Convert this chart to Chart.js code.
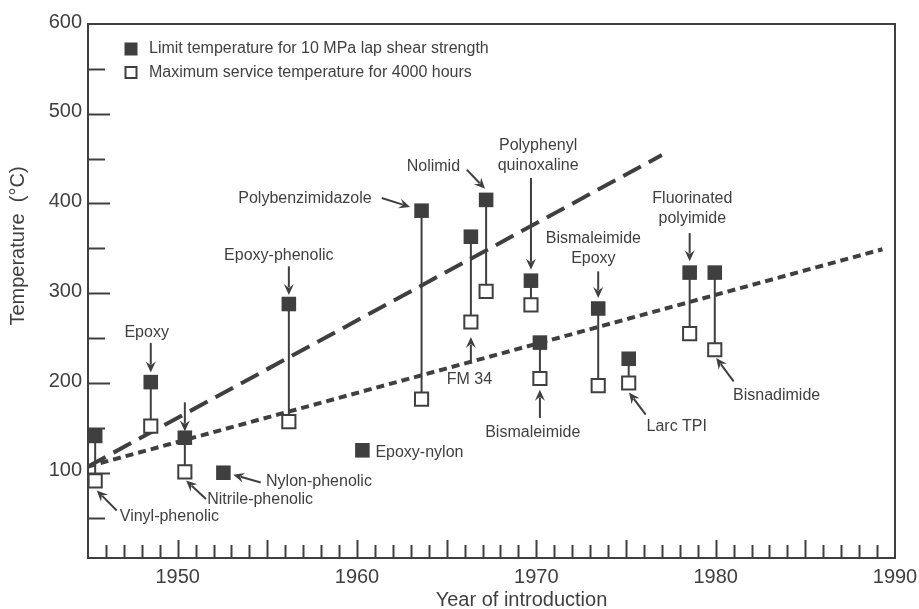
<!DOCTYPE html>
<html>
<head>
<meta charset="utf-8">
<script src="https://cdn.jsdelivr.net/npm/chart.js@4.4.0/dist/chart.umd.min.js"></script>
<style>
  html, body { margin: 0; padding: 0; background: #fff; }
  #wrap { width: 919px; height: 609px; }
</style>
</head>
<body>
<div id="wrap"><canvas id="chart"></canvas></div>
<script>
// adhesives, year of introduction and temperatures (°C)
const materials = ["Vinyl-phenolic", "Epoxy", "Nitrile-phenolic", "Nylon-phenolic", "Epoxy-phenolic",
  "Epoxy-nylon", "Polybenzimidazole", "FM 34", "Nolimid", "Polyphenyl quinoxaline", "Bismaleimide",
  "Bismaleimide Epoxy", "Larc TPI", "Fluorinated polyimide", "Bisnadimide"];
const years = [1945.4, 1948.5, 1950.4, 1952.55, 1956.2, 1960.3, 1963.6, 1966.35, 1967.2, 1969.7,
  1970.2, 1973.45, 1975.15, 1978.55, 1979.95];
const limitTemp = [141, 201, 139, 100, 288, 125, 392, 363, 404, 314, 245, 283, 227, 323, 323];
const serviceTemp = [91, 152, 101, null, 157, null, 182, 268, 302, 287, 205, 197, 200, 255, 237];

// trend lines [year, temp]
const trendFast = [[1945, 107], [1977, 454]];
const trendSlow = [[1945, 107], [1989.3, 349]];

const xTicks = [1950, 1960, 1970, 1980, 1990];
const yTicks = [100, 200, 300, 400, 500, 600];

// callout text: [lines, year, temp] (centre of first line)
const callouts = [
  [["Epoxy"], 1948.27, 255.7],
  [["Epoxy-phenolic"], 1955.64, 342],
  [["Polybenzimidazole"], 1957.1, 405.5],
  [["Nolimid"], 1964.26, 440.8],
  [["Polyphenyl", "quinoxaline"], 1970.1, 464.5],
  [["Bismaleimide", "Epoxy"], 1973.18, 360.5],
  [["FM 34"], 1966.27, 203.7],
  [["Bismaleimide"], 1969.8, 144.2],
  [["Larc TPI"], 1977.83, 151.6],
  [["Fluorinated", "polyimide"], 1978.7, 405],
  [["Bisnadimide"], 1983.4, 185.8],
  [["Vinyl-phenolic"], 1949.54, 50.6],
  [["Nitrile-phenolic"], 1954.6, 70],
  [["Nylon-phenolic"], 1957.88, 90.3],
  [["Epoxy-nylon"], 1963.48, 122.6]
];
// arrows: [fromYear, fromTemp, toYear, toTemp]
const arrows = [
  [1948.5, 244.6, 1948.5, 211.8],
  [1956.2, 330, 1956.2, 298],
  [1961.38, 406.2, 1962.96, 396.2],
  [1966.12, 437.8, 1967.14, 416.3],
  [1969.7, 428.5, 1969.7, 326.3],
  [1973.45, 324.4, 1973.45, 294.8],
  [1966.35, 222.3, 1966.35, 251.3],
  [1970.2, 161, 1970.2, 192.5],
  [1976.1, 164.7, 1975.17, 189.5],
  [1978.55, 367, 1978.55, 335.6],
  [1981.0, 201.8, 1980.03, 227.9],
  [1946.6, 58, 1945.49, 80.3],
  [1951.58, 70.7, 1950.47, 91.4],
  [1954.63, 89.2, 1953.1, 97.8],
  [1950.4, 178.4, 1950.4, 146]
];

const INK = "#3f3f3f";
const FONT = "'Liberation Sans', Arial, Helvetica, sans-serif";

const limitPts = years.map((x, i) => ({ x, y: limitTemp[i] }));
const servicePts = years.map((x, i) => ({ x, y: serviceTemp[i] })).filter(p => p.y !== null);

const decor = {
  id: "decor",
  beforeDatasetsDraw(chart) {
    const { ctx, chartArea: a, scales: { x, y } } = chart;
    ctx.save();
    ctx.strokeStyle = INK;
    ctx.lineWidth = 2;
    // connectors between the two temperatures
    years.forEach((yr, i) => {
      if (serviceTemp[i] === null) return;
      const px = x.getPixelForValue(yr);
      ctx.beginPath();
      ctx.moveTo(px, y.getPixelForValue(limitTemp[i]));
      ctx.lineTo(px, y.getPixelForValue(serviceTemp[i]));
      ctx.stroke();
    });
    // frame
    ctx.strokeRect(a.left, a.top, a.right - a.left, a.bottom - a.top);
    // x ticks, pointing in
    for (let yr = 1946; yr < 1990; yr++) {
      const px = Math.round(x.getPixelForValue(yr)) + 0.5;
      const len = yr % 5 === 0 ? 18 : 13;
      ctx.beginPath();
      ctx.moveTo(px, a.bottom);
      ctx.lineTo(px, a.bottom - len);
      ctx.stroke();
    }
    // y ticks
    for (let t = 50; t < 600; t += 50) {
      const py = Math.round(y.getPixelForValue(t)) + 0.5;
      const len = t % 100 === 0 ? 22 : 17;
      ctx.beginPath();
      ctx.moveTo(a.left, py);
      ctx.lineTo(a.left + len, py);
      ctx.stroke();
    }
    // arrows
    ctx.fillStyle = INK;
    arrows.forEach(([x0, y0, x1, y1]) => {
      const ax = x.getPixelForValue(x0), ay = y.getPixelForValue(y0);
      const bx = x.getPixelForValue(x1), by = y.getPixelForValue(y1);
      const ang = Math.atan2(by - ay, bx - ax);
      const c = Math.cos(ang), s = Math.sin(ang);
      const head = 11, half = 5;
      ctx.beginPath();
      ctx.moveTo(ax, ay);
      ctx.lineTo(bx - c * head * 0.7, by - s * head * 0.7);
      ctx.stroke();
      ctx.beginPath();
      ctx.moveTo(bx, by);
      ctx.lineTo(bx - c * head - s * half, by - s * head + c * half);
      ctx.lineTo(bx - c * head * 0.65, by - s * head * 0.65);
      ctx.lineTo(bx - c * head + s * half, by - s * head - c * half);
      ctx.closePath();
      ctx.fill();
    });
    ctx.restore();
  },
  afterDraw(chart) {
    const { ctx, chartArea: a, scales: { x, y } } = chart;
    ctx.save();
    ctx.fillStyle = INK;
    // tick labels
    ctx.font = "20px " + FONT;
    ctx.textAlign = "center";
    ctx.textBaseline = "middle";
    xTicks.forEach(t => ctx.fillText(String(t), x.getPixelForValue(t), a.bottom + 19));
    ctx.textAlign = "right";
    yTicks.forEach(t => ctx.fillText(String(t), a.left - 6, y.getPixelForValue(t) - 2));
    // axis titles
    ctx.textAlign = "center";
    ctx.fillText("Year of introduction", (a.left + a.right) / 2 + 30, a.bottom + 42);
    ctx.save();
    ctx.translate(18, (a.top + a.bottom) / 2 - 45);
    ctx.rotate(-Math.PI / 2);
    ctx.fillText("Temperature  (°C)", 0, 0);
    ctx.restore();
    // callouts
    ctx.font = "16px " + FONT;
    callouts.forEach(([lines, yr, t]) => {
      const px = x.getPixelForValue(yr), py = y.getPixelForValue(t);
      lines.forEach((s, k) => ctx.fillText(s, px, py + k * 20));
    });
    // legend
    const lx = a.left + 43, ly = a.top + 25;
    ctx.fillRect(lx - 6.5, ly - 6.5, 13, 13);
    ctx.lineWidth = 2;
    ctx.strokeStyle = INK;
    ctx.fillStyle = "#fff";
    ctx.fillRect(lx - 5.5, ly + 23.5 - 5.5, 11, 11);
    ctx.strokeRect(lx - 5.5, ly + 23.5 - 5.5, 11, 11);
    ctx.fillStyle = INK;
    ctx.textAlign = "left";
    ctx.fillText("Limit temperature for 10 MPa lap shear strength", lx + 18, ly);
    ctx.fillText("Maximum service temperature for 4000 hours", lx + 18, ly + 23.5);
    ctx.restore();
  }
};

const hiddenAxis = {
  type: "linear",
  ticks: { display: false },
  grid: { display: false, drawTicks: false },
  border: { display: false }
};

new Chart(document.getElementById("chart"), {
  type: "scatter",
  data: {
    datasets: [
      {
        label: "Limit temperature for 10 MPa lap shear strength",
        data: limitPts,
        pointStyle: "rect",
        pointRadius: 10.3,
        backgroundColor: INK,
        borderWidth: 0,
        order: 0
      },
      {
        label: "Maximum service temperature for 4000 hours",
        data: servicePts,
        pointStyle: "rect",
        pointRadius: 9.3,
        backgroundColor: "#fff",
        borderColor: INK,
        borderWidth: 2,
        order: 1
      },
      {
        type: "line",
        data: trendFast.map(([x, y]) => ({ x, y })),
        borderColor: INK,
        borderWidth: 4,
        borderDash: [20, 9],
        pointRadius: 0,
        order: 3
      },
      {
        type: "line",
        data: trendSlow.map(([x, y]) => ({ x, y })),
        borderColor: INK,
        borderWidth: 4,
        borderDash: [8, 5],
        pointRadius: 0,
        order: 3
      }
    ]
  },
  options: {
    responsive: true,
    maintainAspectRatio: false,
    animation: false,
    devicePixelRatio: 1,
    layout: { padding: { left: 88, right: 24, top: 24, bottom: 51 } },
    plugins: { legend: { display: false }, tooltip: { enabled: false } },
    scales: {
      x: Object.assign({}, hiddenAxis, { min: 1945, max: 1990 }),
      y: Object.assign({}, hiddenAxis, { min: 5, max: 600 })
    }
  },
  plugins: [decor]
});
</script>
</body>
</html>
